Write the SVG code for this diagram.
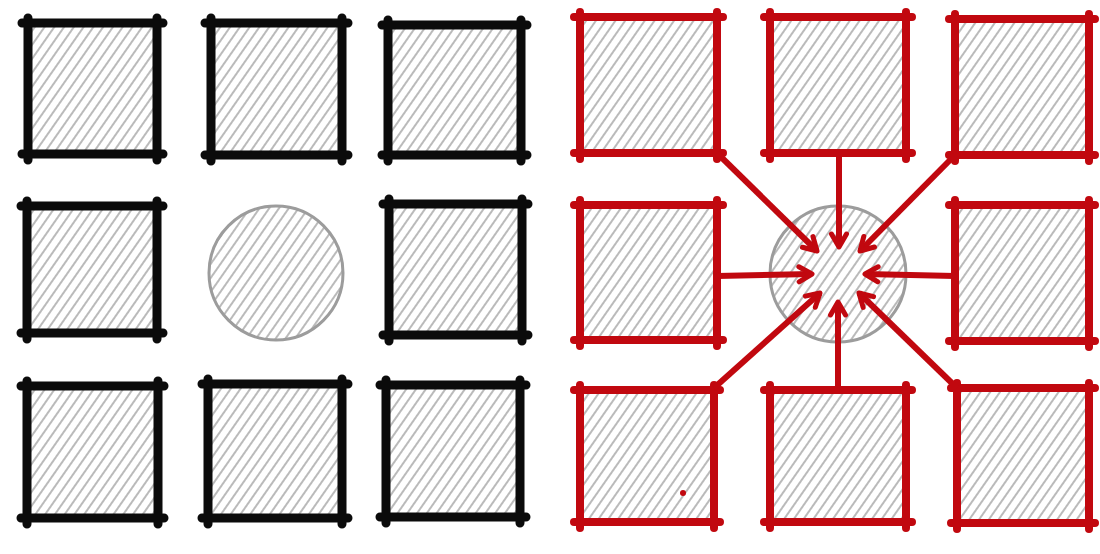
<svg xmlns="http://www.w3.org/2000/svg" width="1100" height="554" viewBox="0 0 1100 554">
  <defs>
    <pattern id="hatch" width="8" height="8" patternUnits="userSpaceOnUse" patternTransform="rotate(35)">
      <line x1="4" y1="-1" x2="4" y2="9" stroke="#8c8c8c" stroke-width="1.2"/>
    </pattern>
    <marker id="chev" markerUnits="userSpaceOnUse" viewBox="0 0 22 22" markerWidth="22" markerHeight="22" refX="18" refY="11" orient="auto">
      <path d="M5,3.5 L18,11 L5,18.5" fill="none" stroke="#c1080f" stroke-width="5" stroke-linecap="round" stroke-linejoin="round"/>
    </marker>
  </defs>
  <style>
    .fill { fill: url(#hatch); stroke: none; }
    .bk { fill: none; stroke: #0b0b0b; stroke-width: 9; stroke-linecap: round; stroke-linejoin: round; }
    .rd { fill: none; stroke: #c1080f; stroke-width: 8; stroke-linecap: round; stroke-linejoin: round; }
    .circ { fill: url(#hatch); stroke: #9c9c9c; stroke-width: 3; }
    .arrow { fill: none; stroke: #c1080f; stroke-width: 6; stroke-linecap: butt; marker-end: url(#chev); }
  </style>
  <rect width="1100" height="554" fill="#ffffff"/>

  <!-- Left grid (black) -->
  <g id="L1"><rect class="fill" x="28" y="23" width="129" height="131"/><path class="bk" d="M22,23 H163 M157,18 V160 M163,154 H22 M28,160 V18"/></g>
  <g id="L2"><rect class="fill" x="211" y="23" width="131" height="132"/><path class="bk" d="M205,23 H348 M342,18 V161 M348,155 H205 M211,161 V18"/></g>
  <g id="L3"><rect class="fill" x="388" y="25" width="133" height="130"/><path class="bk" d="M382,25 H527 M521,20 V161 M527,155 H382 M388,161 V20"/></g>
  <g id="L4"><rect class="fill" x="27" y="206" width="130" height="127"/><path class="bk" d="M21,206 H163 M157,201 V339 M163,333 H21 M27,339 V201"/></g>
  <g id="Lc"><circle class="circ" cx="276" cy="273" r="67"/></g>
  <g id="L6"><rect class="fill" x="389" y="204" width="133" height="131"/><path class="bk" d="M383,204 H528 M522,199 V341 M528,335 H383 M389,341 V199"/></g>
  <g id="L7"><rect class="fill" x="27" y="386" width="131" height="132"/><path class="bk" d="M21,386 H164 M158,381 V524 M164,518 H21 M27,524 V381"/></g>
  <g id="L8"><rect class="fill" x="208" y="384" width="134" height="134"/><path class="bk" d="M202,384 H348 M342,379 V524 M348,518 H202 M208,524 V379"/></g>
  <g id="L9"><rect class="fill" x="386" y="385" width="134" height="132"/><path class="bk" d="M380,385 H526 M520,380 V523 M526,517 H380 M386,523 V380"/></g>

  <!-- Right grid (red) -->
  <g id="R1"><rect class="fill" x="580" y="17" width="137" height="136"/><path class="rd" d="M574,17 H723 M717,12 V159 M723,153 H574 M580,159 V12"/></g>
  <g id="R2"><rect class="fill" x="770" y="17" width="136" height="136"/><path class="rd" d="M764,17 H912 M906,12 V159 M912,153 H764 M770,159 V12"/></g>
  <g id="R3"><rect class="fill" x="955" y="19" width="134" height="136"/><path class="rd" d="M949,19 H1095 M1089,14 V161 M1095,155 H949 M955,161 V14"/></g>
  <g id="R4"><rect class="fill" x="580" y="205" width="137" height="135"/><path class="rd" d="M574,205 H723 M717,200 V346 M723,340 H574 M580,346 V200"/></g>
  <g id="Rc"><circle class="circ" cx="838" cy="274" r="68"/></g>
  <g id="R6"><rect class="fill" x="955" y="205" width="134" height="136"/><path class="rd" d="M949,205 H1095 M1089,200 V347 M1095,341 H949 M955,347 V200"/></g>
  <g id="R7"><rect class="fill" x="580" y="390" width="134" height="132"/><path class="rd" d="M574,390 H720 M714,385 V528 M720,522 H574 M580,528 V385"/><circle cx="683" cy="493" r="3" fill="#c1080f"/></g>
  <g id="R8"><rect class="fill" x="770" y="390" width="136" height="132"/><path class="rd" d="M764,390 H912 M906,385 V528 M912,522 H764 M770,528 V385"/></g>
  <g id="R9"><rect class="fill" x="957" y="388" width="132" height="135"/><path class="rd" d="M951,388 H1095 M1089,383 V529 M1095,523 H951 M957,529 V383"/></g>

  <!-- Connectors -->
  <g id="connectors">
    <line class="arrow" x1="717" y1="153" x2="817" y2="251"/>
    <line class="arrow" x1="839" y1="153" x2="839" y2="247"/>
    <line class="arrow" x1="955" y1="155" x2="860" y2="251"/>
    <line class="arrow" x1="717" y1="276" x2="812" y2="274"/>
    <line class="arrow" x1="955" y1="276" x2="865" y2="274"/>
    <line class="arrow" x1="714" y1="388" x2="820" y2="293"/>
    <line class="arrow" x1="838" y1="390" x2="838" y2="302"/>
    <line class="arrow" x1="957" y1="388" x2="859" y2="293"/>
  </g>
</svg>
